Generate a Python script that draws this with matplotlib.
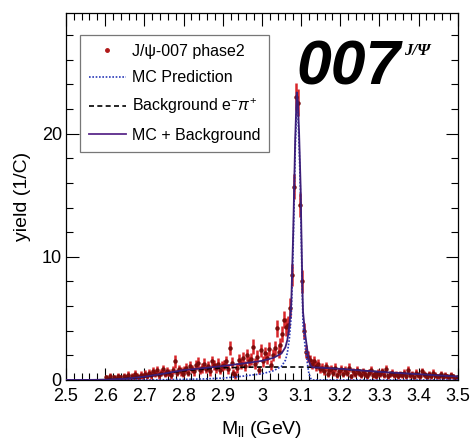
import numpy as np
import matplotlib
matplotlib.use("Agg")
import matplotlib.pyplot as plt
from matplotlib.lines import Line2D
from matplotlib.ticker import MultipleLocator, FuncFormatter

plt.rcParams['font.family'] = ['Liberation Sans', 'DejaVu Sans']
plt.rcParams['mathtext.fontset'] = 'custom'
plt.rcParams['mathtext.rm'] = 'Liberation Sans'
plt.rcParams['mathtext.it'] = 'Liberation Sans:italic'

# data histogram, 5 MeV bins from 2.6 to 3.5 GeV
bin_width = 0.005
data_y = [
    0.2, 0.1, 0.3, 0.0, 0.2, 0.1, 0.3, 0.2, 0.0, 0.3, 0.2, 0.4, 0.1, 0.3, 0.2, 0.5, 0.3, 0.2, 0.4, 0.3,
    0.5, 0.3, 0.6, 0.4, 0.7, 0.5, 0.8, 0.4, 0.6, 0.9, 0.5, 0.7, 0.6, 0.4, 0.8, 1.5, 0.6, 0.9, 0.7, 0.5,
    0.8, 1.0, 0.6, 1.1, 0.9, 0.7, 1.2, 1.4, 0.8, 1.0, 1.3, 0.9, 1.1, 0.7, 1.5, 1.2, 1.0, 1.3, 0.8, 1.1,
    1.2, 1.5, 0.9, 2.6, 1.4, 0.6, 0.4, 1.0, 1.6, 1.3, 1.8, 1.1, 2.0, 1.5, 1.7, 2.7, 1.3, 1.9, 0.8, 2.4,
    1.5, 2.2, 1.8, 2.5, 1.2, 2.0, 2.6, 4.2, 2.3, 2.8,
    3.7, 4.9, 4.3, 4.5, 5.85, 8.5, 15.7, 23.0, 22.5, 14.2,
    8.0, 4.0, 2.3, 1.9, 1.6, 1.3, 1.5, 1.1, 1.3, 0.9,
    1.0, 0.7, 1.1, 0.5, 0.8, 0.9, 0.6, 1.0, 0.4, 0.7, 0.9, 0.5, 0.8, 0.6, 1.0, 0.3, 0.7, 0.5, 0.8, 0.6,
    0.4, 0.7, 0.5, 0.3, 0.6, 0.8, 0.4, 0.5, 0.3, 0.6, 0.5, 0.7, 0.4, 0.9, 0.3, 0.5, 0.6, 0.4, 0.5, 0.3,
    0.5, 0.4, 0.6, 0.3, 0.8, 0.4, 0.5, 0.2, 0.6, 0.4, 0.3, 0.7, 0.5, 0.4, 0.2, 0.5, 0.3, 0.6, 0.4, 0.3,
    0.3, 0.5, 0.2, 0.4, 0.3, 0.2, 0.4, 0.3, 0.1, 0.2,
]
data_err = [
    0.2, 0.15, 0.25, 0.1, 0.2, 0.15, 0.25, 0.2, 0.1, 0.25, 0.2, 0.3, 0.15, 0.25, 0.2, 0.3, 0.25, 0.2, 0.3, 0.25,
    0.3, 0.25, 0.3, 0.3, 0.35, 0.3, 0.35, 0.3, 0.3, 0.35, 0.3, 0.35, 0.3, 0.3, 0.35, 0.5, 0.3, 0.35, 0.35, 0.3,
    0.35, 0.4, 0.3, 0.4, 0.35, 0.35, 0.4, 0.45, 0.35, 0.4, 0.45, 0.35, 0.4, 0.35, 0.45, 0.4, 0.4, 0.45, 0.35, 0.4,
    0.4, 0.45, 0.4, 0.6, 0.45, 0.3, 0.3, 0.4, 0.5, 0.45, 0.5, 0.4, 0.5, 0.45, 0.5, 0.6, 0.45, 0.5, 0.35, 0.55,
    0.45, 0.5, 0.5, 0.55, 0.4, 0.5, 0.55, 0.7, 0.55, 0.6,
    0.65, 0.7, 0.7, 0.7, 0.8, 0.9, 1.0, 1.1, 1.1, 1.0,
    0.9, 0.65, 0.5, 0.45, 0.45, 0.4, 0.45, 0.4, 0.4, 0.35,
    0.35, 0.3, 0.35, 0.25, 0.3, 0.35, 0.3, 0.35, 0.25, 0.3, 0.35, 0.25, 0.3, 0.3, 0.35, 0.2, 0.3, 0.25, 0.3, 0.3,
    0.25, 0.3, 0.25, 0.2, 0.3, 0.3, 0.25, 0.25, 0.2, 0.3, 0.25, 0.3, 0.25, 0.35, 0.2, 0.25, 0.3, 0.25, 0.25, 0.2,
    0.25, 0.25, 0.3, 0.2, 0.3, 0.25, 0.25, 0.15, 0.3, 0.25, 0.2, 0.3, 0.25, 0.25, 0.15, 0.25, 0.2, 0.3, 0.25, 0.2,
    0.2, 0.25, 0.15, 0.25, 0.2, 0.15, 0.25, 0.2, 0.1, 0.15,
]
data_x = 2.6 + bin_width / 2 + bin_width * np.arange(len(data_y))

# model curves
curve_x = [2.5, 2.55, 2.6, 2.65, 2.7, 2.75, 2.8, 2.85, 2.9, 2.95,
           3.0, 3.03, 3.05, 3.06, 3.065, 3.07, 3.075, 3.08, 3.085, 3.089,
           3.092, 3.095, 3.099, 3.1, 3.103, 3.105, 3.11, 3.115, 3.12, 3.125,
           3.13, 3.15, 3.2, 3.25, 3.3, 3.35, 3.4, 3.45, 3.5]
mc_pred = [0, 0, 0, 0, 0.01, 0.02, 0.05, 0.08, 0.15, 0.3,
           0.5, 0.75, 1.1, 1.6, 2.2, 3.3, 5.2, 11.0, 18.5, 22.3,
           21.5, 19.0, 14.5, 12.5, 7.0, 4.5, 2.8, 1.6, 0.5, 0.1,
           0, 0, 0, 0, 0, 0, 0, 0, 0]
background = [0, 0, 0.02, 0.1, 0.25, 0.5, 0.75, 0.88, 0.98, 1.03,
              1.05, 1.05, 1.05, 1.05, 1.05, 1.05, 1.05, 1.05, 1.05, 1.05,
              1.05, 1.05, 1.05, 1.05, 1.05, 1.05, 1.05, 1.05, 1.04, 1.03,
              1.02, 1.0, 0.9, 0.78, 0.66, 0.56, 0.47, 0.37, 0.28]
total = [m + b for m, b in zip(mc_pred, background)]

fig = plt.figure(figsize=(4.71, 4.47), dpi=100)
ax = fig.add_axes([0.140, 0.150, 0.832, 0.821])

ax.errorbar(data_x, data_y, yerr=data_err, xerr=bin_width / 2, fmt='o', ms=2.2,
            color='#7a0c0c', ecolor='#d8262a', elinewidth=1.8, capsize=0, zorder=2)
ax.plot(curve_x, background, color='black', lw=1.2, ls=(0, (3, 2)), zorder=3)
ax.plot(curve_x, mc_pred, color='#2a3ab8', lw=1.2, ls=(0, (1, 1)), zorder=3)
ax.plot(curve_x, total, color='#3c1e78', lw=1.3, zorder=4)

ax.set_xlim(2.5, 3.5)
ax.set_ylim(0, 29.8)
ax.xaxis.set_major_locator(MultipleLocator(0.1))
ax.xaxis.set_minor_locator(MultipleLocator(0.02))
ax.yaxis.set_major_locator(MultipleLocator(10))
ax.yaxis.set_minor_locator(MultipleLocator(2))
ax.xaxis.set_major_formatter(FuncFormatter(lambda v, p: '%g' % round(v, 2)))
ax.tick_params(which='both', direction='in', top=True, right=True, labelsize=13, width=0.8)
ax.tick_params(which='major', length=9)
ax.tick_params(which='minor', length=5)
ax.tick_params(axis='x', pad=6)
ax.tick_params(axis='y', pad=3)
for s in ax.spines.values():
    s.set_linewidth(0.9)

ax.set_ylabel('yield (1/C)', fontsize=14, labelpad=8)
ax.set_xlabel(r'M$_{\rm ll}$ (GeV)', fontsize=14, labelpad=10)

handles = [
    Line2D([], [], marker='o', ms=2.5, color='#b01818', ls='none'),
    Line2D([], [], color='#2a3ab8', lw=1.2, ls=(0, (1, 1))),
    Line2D([], [], color='black', lw=1.2, ls=(0, (3, 2))),
    Line2D([], [], color='#5a2a8a', lw=1.3),
]
labels = [u'J/\u03c8-007 phase2', 'MC Prediction',
          r'Background e$^{-}\pi^{+}$', 'MC + Background']
leg = ax.legend(handles, labels, loc='upper left', bbox_to_anchor=(0.036, 0.94),
                borderaxespad=0, fontsize=11.5, frameon=True, fancybox=False,
                edgecolor='#555555', handlelength=2.3, handletextpad=0.4,
                labelspacing=0.72, borderpad=0.55)
leg.get_frame().set_linewidth(0.9)

ax.text(0.588, 0.805, '007', transform=ax.transAxes, fontsize=45,
        fontweight='bold', style='italic',
        family=['Liberation Sans Narrow', 'Liberation Sans', 'DejaVu Sans'],
        ha='left', va='baseline', color='black')
ax.text(0.862, 0.885, u'J/\u03a8', transform=ax.transAxes, fontsize=12,
        fontweight='bold', style='italic', family=['Liberation Serif', 'DejaVu Serif'],
        ha='left', va='baseline', color='black')

fig.savefig('out.png', dpi=100)
